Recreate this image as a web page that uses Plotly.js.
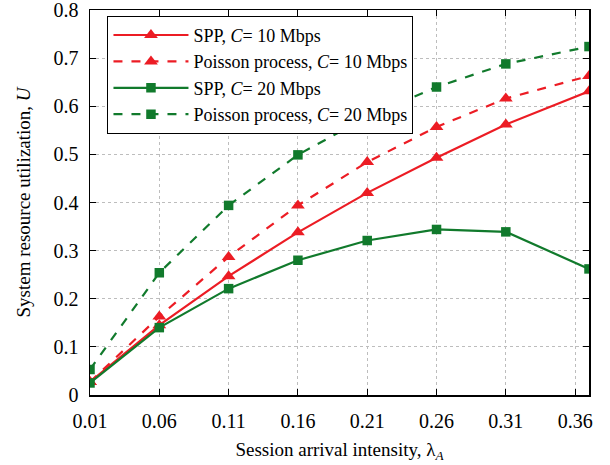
<!DOCTYPE html>
<html>
<head>
<meta charset="utf-8">
<script src="https://cdn.plot.ly/plotly-3.0.1.min.js"></script>
<style>html,body{margin:0;padding:0;background:#fff;}#chart{width:610px;height:465px;}</style>
</head>
<body>
<div id="chart"></div>
<script>
var lambdaA = [0.01, 0.06, 0.11, 0.16, 0.21, 0.26, 0.31, 0.37];
var sppC10 = [0.027, 0.145, 0.247, 0.338, 0.420, 0.493, 0.562, 0.631];
var poissonC10 = [0.027, 0.163, 0.287, 0.394, 0.484, 0.557, 0.616, 0.663];
var sppC20 = [0.025, 0.140, 0.221, 0.280, 0.321, 0.344, 0.339, 0.262];
var poissonC20 = [0.053, 0.254, 0.394, 0.499, 0.578, 0.640, 0.688, 0.724];
var seriesNames = ['SPP, <i>C</i>= 10 Mbps', 'Poisson process, <i>C</i>= 10 Mbps', 'SPP, <i>C</i>= 20 Mbps', 'Poisson process, <i>C</i>= 20 Mbps'];
var xTickVals = [0.01, 0.06, 0.11, 0.16, 0.21, 0.26, 0.31, 0.36];
var xTickText = ['0.01', '0.06', '0.11', '0.16', '0.21', '0.26', '0.31', '0.36'];
var yTickVals = [0, 0.1, 0.2, 0.3, 0.4, 0.5, 0.6, 0.7, 0.8];
var yTickText = ['0', '0.1', '0.2', '0.3', '0.4', '0.5', '0.6', '0.7', '0.8'];

var red = '#ec1c24', green = '#117a2c';
var font = 'Liberation Serif';
function tr(y, name, color, dash, symbol, size) {
  return {x: lambdaA, y: y, name: name, type: 'scatter', mode: 'lines+markers',
    line: {color: color, width: 2.2, dash: dash},
    marker: {color: color, symbol: symbol, size: size}};
}
var data = [
  tr(sppC10, seriesNames[0], red, 'solid', 'triangle-up', 12),
  tr(poissonC10, seriesNames[1], red, 'dash', 'triangle-up', 12),
  tr(sppC20, seriesNames[2], green, 'solid', 'square', 9.5),
  tr(poissonC20, seriesNames[3], green, 'dash', 'square', 9.5)
];
var axisCommon = {showline: true, linecolor: '#000', linewidth: 1.5, mirror: 'ticks',
  ticks: 'inside', ticklen: 6, tickcolor: '#000', tickwidth: 1,
  showgrid: true, gridcolor: '#bdbdbd', griddash: 'dot', gridwidth: 1, zeroline: false,
  ticklabeloverflow: 'allow',
  tickfont: {family: font, size: 20, color: '#000'}};
var layout = {
  width: 610, height: 465,
  margin: {l: 90, r: 21, t: 10, b: 70},
  paper_bgcolor: '#fff', plot_bgcolor: '#fff',
  font: {family: font, color: '#000'},
  showlegend: true,
  legend: {x: 0.035, y: 0.985, xanchor: 'left', yanchor: 'top', bgcolor: '#fff',
    bordercolor: '#000', borderwidth: 1, font: {family: font, size: 18, color: '#000'},
    tracegroupgap: 0, itemwidth: 75},
  xaxis: Object.assign({}, axisCommon, {range: [0.01, 0.37], tickvals: xTickVals, ticktext: xTickText,
    ticklabelstandoff: 7,
    title: {text: 'Session arrival intensity, λ<sub><i>A</i></sub>', font: {family: font, size: 19}, standoff: 12}}),
  yaxis: Object.assign({}, axisCommon, {range: [0, 0.8], tickvals: yTickVals, ticktext: yTickText,
    ticklabelstandoff: 6,
    title: {text: 'System resource utilization, <i>U</i>', font: {family: font, size: 19}, standoff: 18}})
};
Plotly.newPlot('chart', data, layout, {displayModeBar: false, staticPlot: true});
</script>
</body>
</html>
